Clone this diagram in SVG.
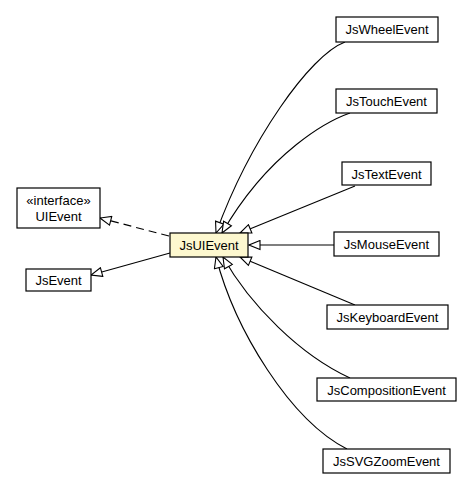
<svg xmlns="http://www.w3.org/2000/svg" width="472" height="491" viewBox="0 0 472 491">
<style>
.box{fill:#fff;stroke:#000;stroke-width:1.2}
.hl{fill:#fdf8cf;stroke:#000;stroke-width:1.2}
text{font-family:"Liberation Sans",Arial,sans-serif;font-size:13px;fill:#000;text-anchor:middle}
.e{fill:none;stroke:#000;stroke-width:1.1;marker-end:url(#tri)}
.d{stroke-dasharray:8,5}
</style>
<defs>
<marker id="tri" markerUnits="userSpaceOnUse" markerWidth="13" markerHeight="11" refX="12" refY="5.5" orient="auto" viewBox="0 0 13 11">
<path d="M1,1 L12,5.5 L1,10 Z" fill="#fff" stroke="#000" stroke-width="1.1"/>
</marker>
</defs>
<g id="edges">
<path class="e" d="M345,42 C310,55 250,140 216,233"/>
<path class="e" d="M350,113 C330,120 270,150 222,233"/>
<path class="e" d="M355,186 L240,233"/>
<path class="e" d="M334,245 L249,245"/>
<path class="e" d="M355,305 L240,257"/>
<path class="e" d="M350,378 C300,355 250,305 223,257"/>
<path class="e" d="M347,449 C290,420 235,330 216,257"/>
<path class="e d" d="M169,236 L100,218"/>
<path class="e" d="M170,253 L91,275"/>
</g>
<g id="UIEvent"><rect class="box" x="17" y="188" width="83" height="40"/><text x="58.5" y="205">«interface»</text><text x="58.5" y="221">UIEvent</text></g>
<g id="JsEvent"><rect class="box" x="26" y="269" width="65" height="22"/><text x="58.5" y="285">JsEvent</text></g>
<g id="JsUIEvent"><rect class="hl" x="170" y="233" width="78" height="24"/><text x="209" y="250">JsUIEvent</text></g>
<g id="JsWheelEvent"><rect class="box" x="336" y="17" width="102" height="25"/><text x="387" y="34">JsWheelEvent</text></g>
<g id="JsTouchEvent"><rect class="box" x="336" y="89" width="101" height="24"/><text x="386.5" y="106">JsTouchEvent</text></g>
<g id="JsTextEvent"><rect class="box" x="342" y="162" width="89" height="23"/><text x="386.5" y="178.5">JsTextEvent</text></g>
<g id="JsMouseEvent"><rect class="box" x="334" y="232" width="105" height="24"/><text x="386.5" y="249">JsMouseEvent</text></g>
<g id="JsKeyboardEvent"><rect class="box" x="327" y="305" width="121" height="24"/><text x="387.5" y="322">JsKeyboardEvent</text></g>
<g id="JsCompositionEvent"><rect class="box" x="317" y="378" width="139" height="23"/><text x="386.5" y="394.5">JsCompositionEvent</text></g>
<g id="JsSVGZoomEvent"><rect class="box" x="323" y="449" width="127" height="24"/><text x="386.5" y="466">JsSVGZoomEvent</text></g>
</svg>
